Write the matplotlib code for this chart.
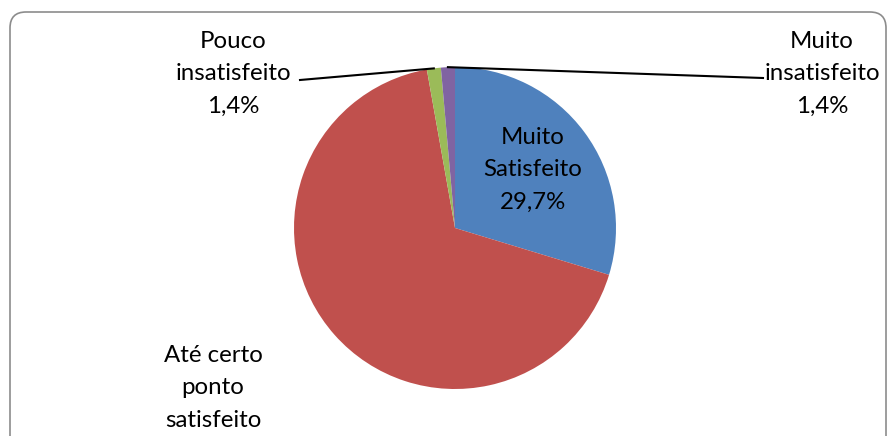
import numpy as np
import matplotlib.pyplot as plt
from matplotlib.patches import FancyBboxPatch

# Chart data
labels = ["Muito\nSatisfeito", "Até certo\nponto\nsatisfeito", "Pouco\ninsatisfeito", "Muito\ninsatisfeito"]
shares = [29.7, 67.5, 1.4, 1.4]
pct_text = ["29,7%", "67,5%", "1,4%", "1,4%"]
colors = ["#4F81BD", "#C0504D", "#9BBB59", "#8064A2"]

plt.rcParams['font.family'] = ['Lato', 'DejaVu Sans']

W, H = 889, 436
fig = plt.figure(figsize=(W / 100, H / 100), dpi=100)
ax = fig.add_axes([0, 0, 1, 1])
ax.set_xlim(0, W)
ax.set_ylim(0, H)
ax.set_aspect('equal')
ax.axis('off')

# rounded chart border (bottom runs off the picture)
border = FancyBboxPatch((10, -30), 876, (H - 12) + 30,
                        boxstyle="round,pad=0,rounding_size=16",
                        fc="white", ec="#8c8c8c", lw=1.2)
ax.add_patch(border)

cx, cy, r = 455, H - 228, 161
wedges, _ = ax.pie(shares, colors=colors, startangle=90, counterclock=False,
                   center=(cx, cy), radius=r, frame=True,
                   wedgeprops=dict(linewidth=0))
ax.set_xlim(0, W)
ax.set_ylim(0, H)
ax.axis('off')

fs = 17.3
ls = 1.68
# Muito Satisfeito inside the slice
ax.text(533, H - 170, labels[0] + "\n" + pct_text[0], ha='center', va='center',
        fontsize=fs, linespacing=ls, color='black')
# Até certo ponto satisfeito (percent line falls off the picture)
ax.text(213, H - 388, labels[1], ha='center', va='center',
        fontsize=fs, linespacing=ls, color='black')

# small slices with leader lines
def mid_point(w):
    a = np.deg2rad((w.theta1 + w.theta2) / 2)
    return cx + r * np.cos(a), cy + r * np.sin(a)

gx, gy = mid_point(wedges[2])
px, py = mid_point(wedges[3])
ax.plot([gx, 300], [gy, H - 80], color='black', lw=1.5)
ax.plot([px, 763], [py, H - 78], color='black', lw=1.5)

ax.text(233, H - 74, labels[2] + "\n" + pct_text[2], ha='center', va='center',
        fontsize=fs, linespacing=ls, color='black')
ax.text(822, H - 74, labels[3] + "\n" + pct_text[3], ha='center', va='center',
        fontsize=fs, linespacing=ls, color='black')

fig.savefig("out.png", dpi=100)
